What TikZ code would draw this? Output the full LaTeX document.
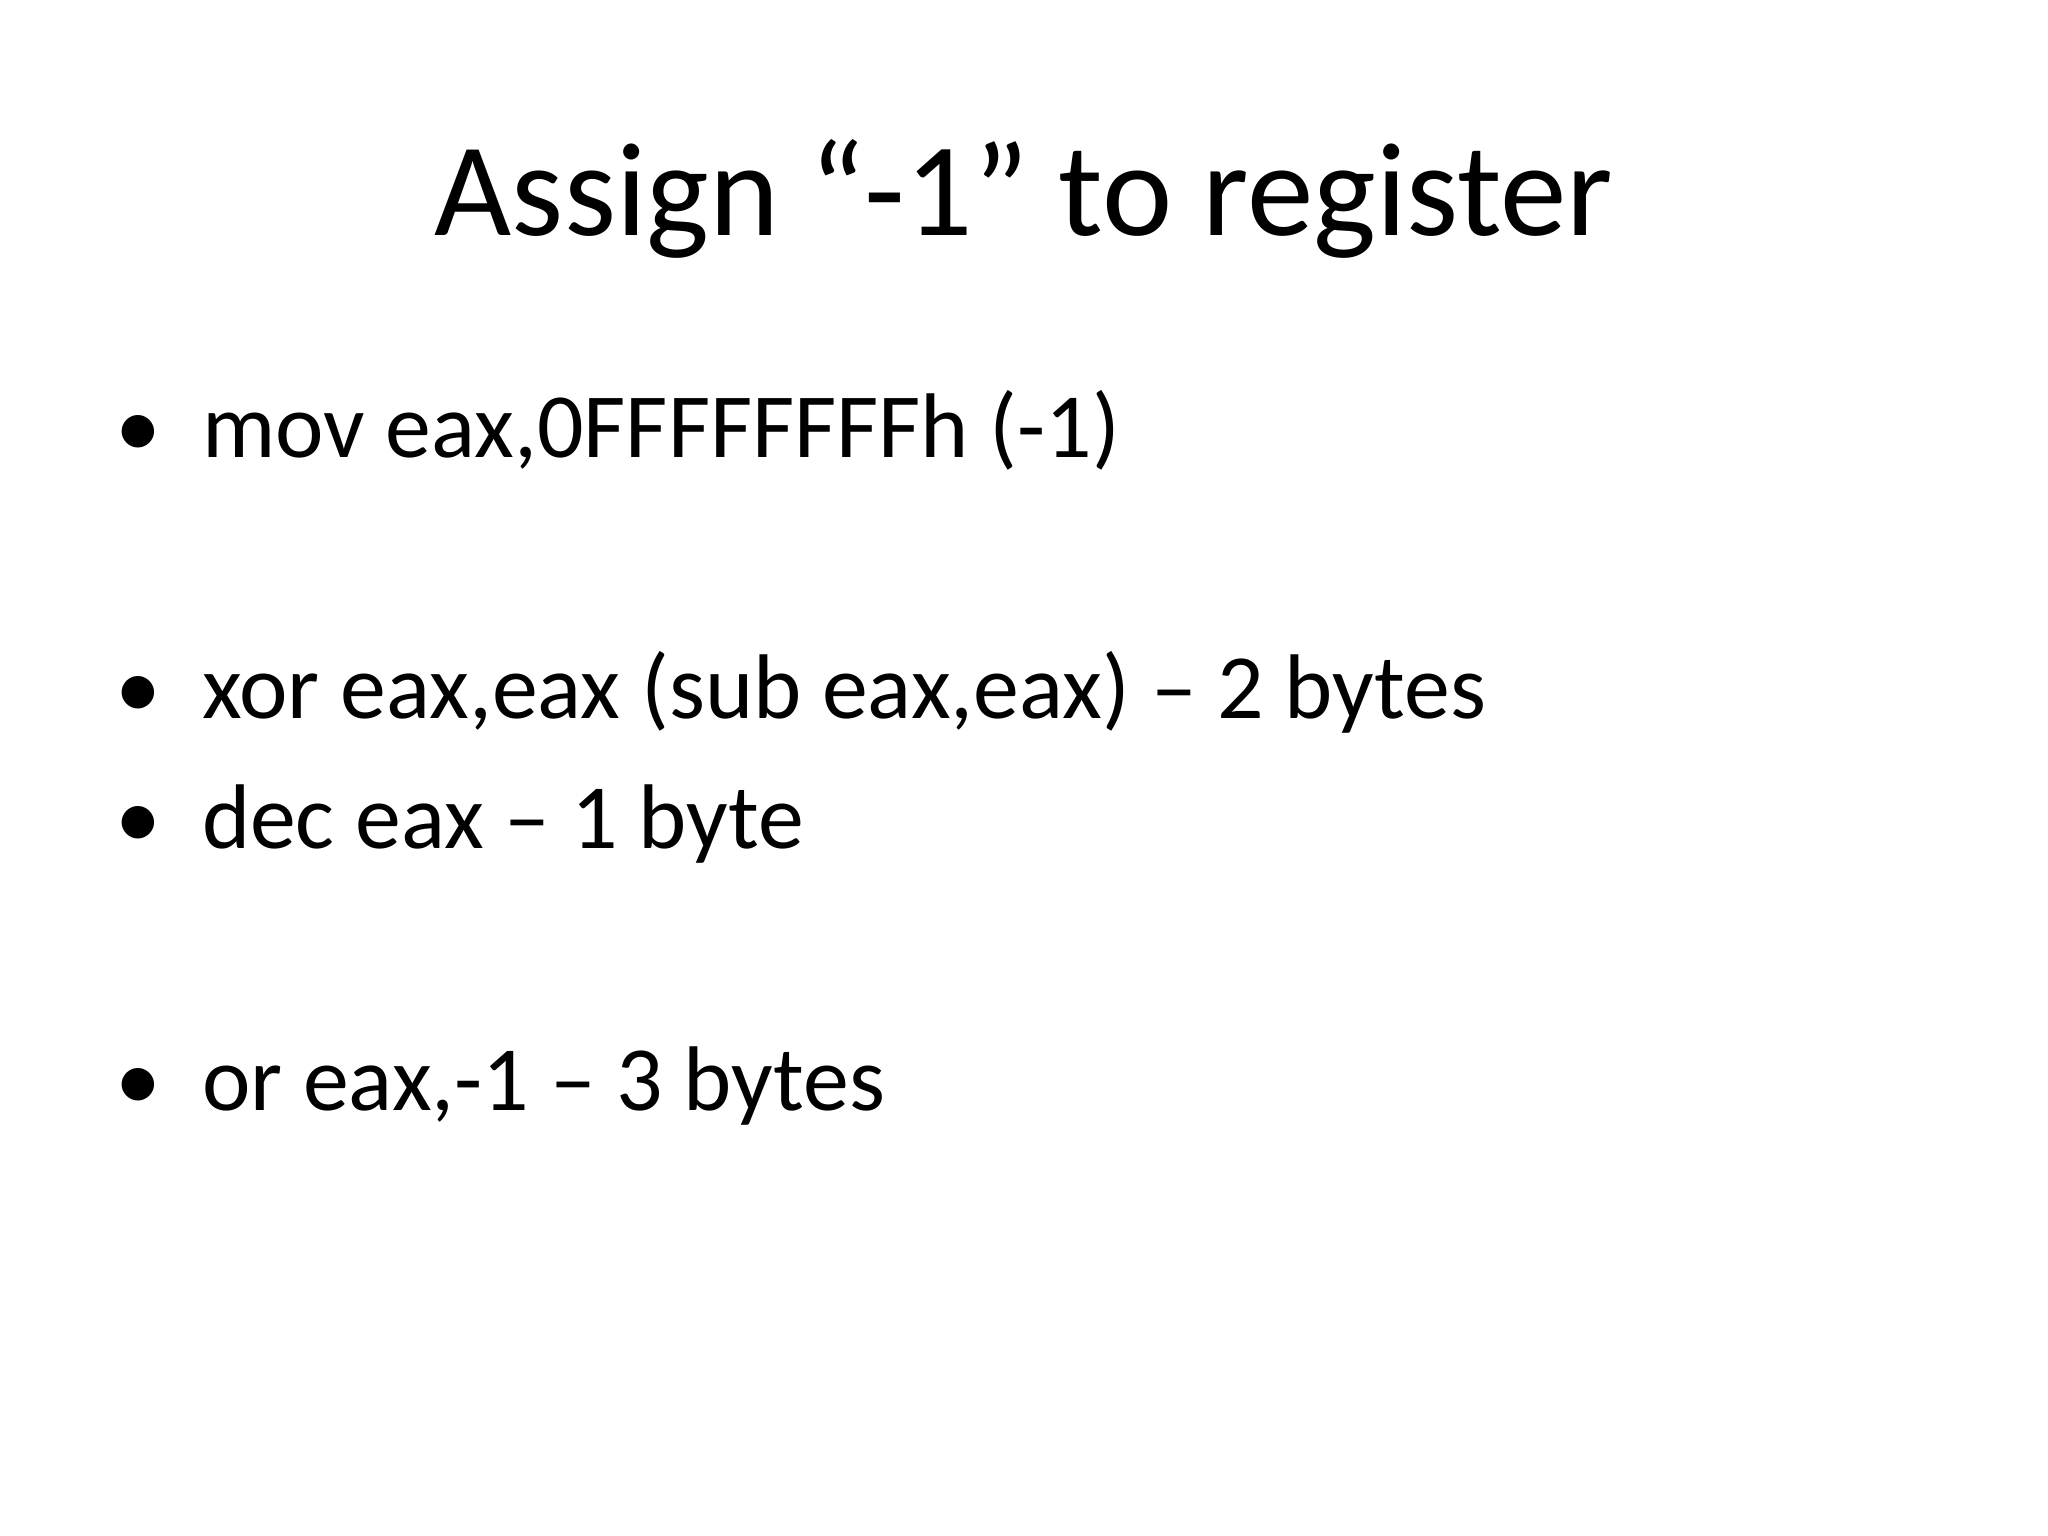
\documentclass[tikz,border=0pt]{standalone}
\usepackage{fontspec}
\setmainfont{Carlito}
\tikzset{%%
  item/.style={anchor=base west, inner sep=0pt, font=\fontsize{20}{24}\selectfont},
  dot/.style={anchor=base, inner sep=0pt, font=\fontsize{20}{24}\selectfont}
  }
\begin{document}
\begin{tikzpicture}
  \useasboundingbox (0,0) rectangle (15.68,11.76);
  \node[anchor=base, inner sep=0pt, font=\fontsize{29}{34}\selectfont] (title) at (7.84,9.96) {Assign “-1” to register};
  \foreach \y/\t/\n in {8.26/{mov eax,0FFFFFFFFh (-1)}/a,
                        6.26/{xor eax,eax (sub eax,eax) – 2 bytes}/b,
                        5.26/{dec eax – 1 byte}/c,
                        3.26/{or eax,-1 – 3 bytes}/d}{
    \node[dot] (dot\n) at (1.06,\y) {•};
    \node[item] (\n) at (1.54,\y) {\t};
  }
\end{tikzpicture}
\end{document}
